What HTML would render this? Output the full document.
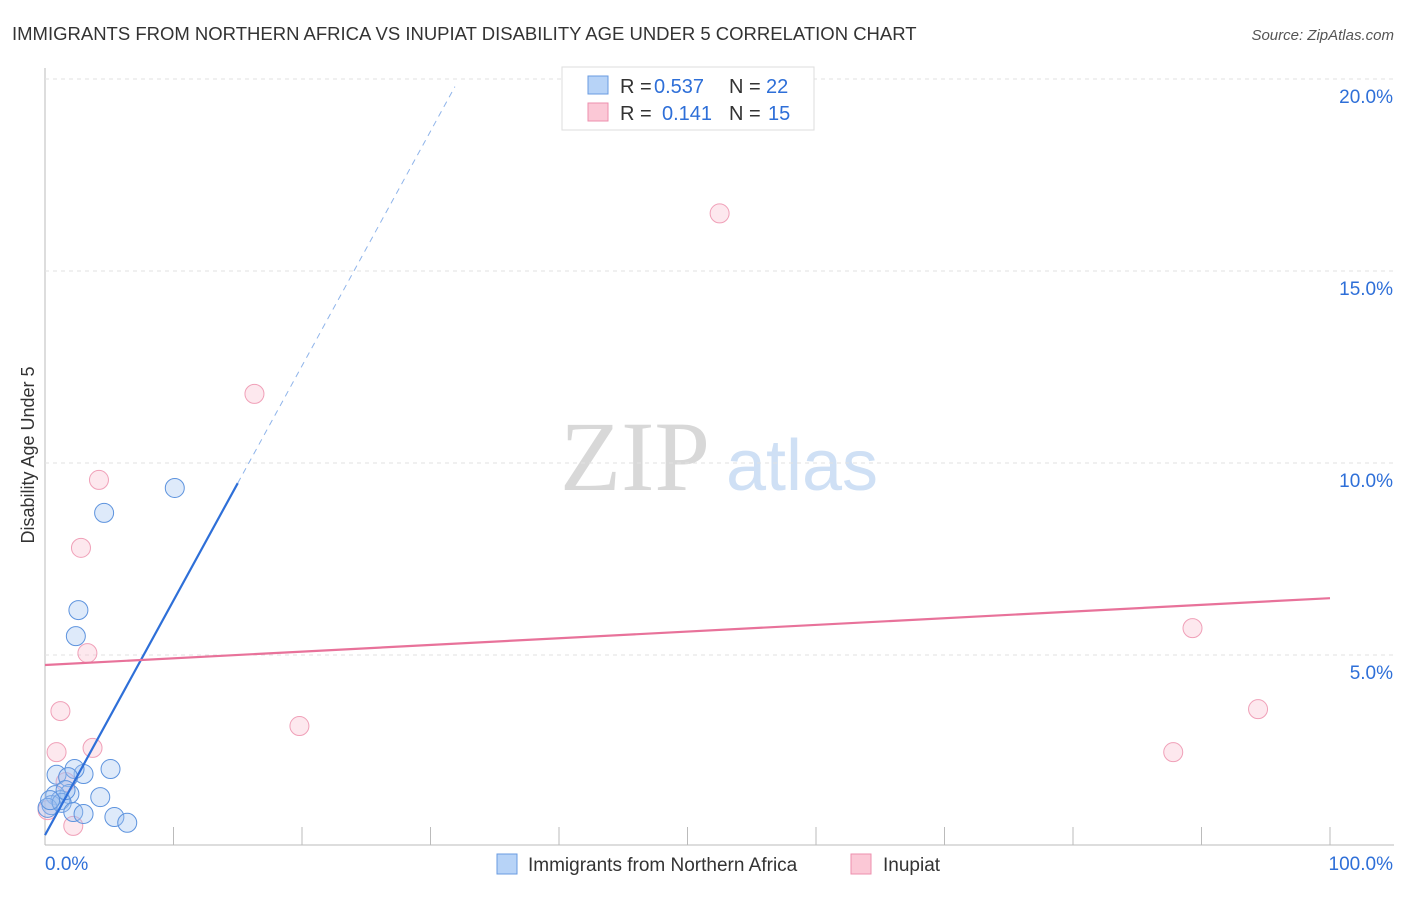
<!DOCTYPE html>
<html><head><meta charset="utf-8"><style>
body{margin:0;background:#fff;font-family:"Liberation Sans",sans-serif}
</style></head><body>
<svg id="c" width="1406" height="892" font-family="Liberation Sans, sans-serif">
<text x="12" y="40" font-size="18.5" fill="#333">IMMIGRANTS FROM NORTHERN AFRICA VS INUPIAT DISABILITY AGE UNDER 5 CORRELATION CHART</text>
<text x="1394" y="40" font-size="15" fill="#555" font-style="italic" text-anchor="end">Source: ZipAtlas.com</text>
<text x="34" y="455" font-size="18" fill="#333" transform="rotate(-90 34 455)" text-anchor="middle">Disability Age Under 5</text>
<text x="635" y="490" font-size="100" fill="#d8d8d8" style="font-family:'Liberation Serif',serif" text-anchor="middle">ZIP</text>
<text x="802" y="490" font-size="72" fill="#cfe0f5" text-anchor="middle">atlas</text>
<g id="grid"></g><g id="pts"></g><g id="lines"></g>
<g>
<rect x="562" y="67" width="252" height="63" fill="#fff" stroke="#ddd"/>
<rect x="588" y="76" width="20" height="18" fill="#b7d3f7" stroke="#6a9be0"/>
<rect x="588" y="103" width="20" height="18" fill="#fbc8d6" stroke="#ee8fae"/>
<text x="620" y="93" font-size="20" fill="#333">R =</text>
<text x="654" y="93" font-size="20" fill="#2e6fd8">0.537</text>
<text x="729" y="93" font-size="20" fill="#333">N =</text>
<text x="766" y="93" font-size="20" fill="#2e6fd8">22</text>
<text x="620" y="120" font-size="20" fill="#333">R =</text>
<text x="662" y="120" font-size="20" fill="#2e6fd8">0.141</text>
<text x="729" y="120" font-size="20" fill="#333">N =</text>
<text x="768" y="120" font-size="20" fill="#2e6fd8">15</text>
</g>
<g>
<rect x="497" y="854" width="20" height="20" fill="#b7d3f7" stroke="#6a9be0"/>
<text x="528" y="871" font-size="19" fill="#333">Immigrants from Northern Africa</text>
<rect x="851" y="854" width="20" height="20" fill="#fbc8d6" stroke="#ee8fae"/>
<text x="883" y="871" font-size="19" fill="#333">Inupiat</text>
</g>
</svg>
<script>
const yTicks=[5,10,15,20];
const xTickLabels=["0.0%","100.0%"];
const blueX=[4.6,10.1,2.6,2.4,5.1,3.0,0.9,2.3,1.8,4.3,1.9,0.8,1.2,0.5,0.2,1.3,2.2,3.0,5.4,6.4,1.6,0.4];
const blueY=[8.7,9.35,6.17,5.49,2.03,1.90,1.88,2.03,1.82,1.30,1.38,1.35,1.22,1.09,1.02,1.15,0.91,0.86,0.78,0.63,1.48,1.22];
const pinkX=[52.5,16.3,4.2,2.8,3.3,1.2,19.8,0.9,3.7,1.6,2.2,89.3,94.4,87.8,0.2];
const pinkY=[16.5,11.8,9.56,7.79,5.05,3.54,3.15,2.47,2.58,1.69,0.55,5.70,3.59,2.47,0.96];
const blueFit=[0.31,0.611]; const pinkFit=[4.74,0.0174];
const blueSolidEnd=15, blueDashEnd=31.9;
const X=v=>45+v*12.85, Y=v=>847-v*38.4;
const NS="http://www.w3.org/2000/svg";
function mk(t,a,p){const e=document.createElementNS(NS,t);for(const k in a)e.setAttribute(k,a[k]);p.appendChild(e);return e;}
const g=document.getElementById('grid');
mk('line',{x1:45,y1:68,x2:45,y2:845,stroke:'#bbb'},g);
mk('line',{x1:45,y1:845,x2:1394,y2:845,stroke:'#bbb'},g);
for(let i=0;i<=10;i++){const l=mk('line',{x1:X(i*10),y1:827,x2:X(i*10),y2:845,stroke:'#bbb'},g);

}
yTicks.forEach(t=>{const l=mk('line',{x1:45,y1:Y(t),x2:1394,y2:Y(t),stroke:'#e2e2e2','stroke-dasharray':'4,4'},g);


const tx=mk('text',{x:1393,y:Y(t)+24,'font-size':19,fill:'#2e6fd8','text-anchor':'end'},g);tx.textContent=t.toFixed(1)+'%';

});
xTickLabels.forEach((s,i)=>{const tx=mk('text',{x:i?1393:45,y:870,'font-size':19,fill:'#2e6fd8','text-anchor':i?'end':'start'},g);tx.textContent=s;

});
const p=document.getElementById('pts');
pinkX.forEach((x,i)=>{const c=mk('circle',{cx:X(x),cy:Y(pinkY[i]),r:9.5,fill:'rgba(248,180,200,0.3)',stroke:'#f0a0b8'},p);

});
blueX.forEach((x,i)=>{const c=mk('circle',{cx:X(x),cy:Y(blueY[i]),r:9.5,fill:'rgba(160,195,240,0.35)',stroke:'#5d93de'},p);

});
const L=document.getElementById('lines');
let a=mk('line',{x1:X(0),y1:Y(blueFit[0]),x2:X(blueSolidEnd),y2:Y(blueFit[0]+blueSolidEnd*blueFit[1]),stroke:'#2e6fd8','stroke-width':2.2},L);


a=mk('line',{x1:X(blueSolidEnd),y1:Y(blueFit[0]+blueSolidEnd*blueFit[1]),x2:X(blueDashEnd),y2:Y(blueFit[0]+blueDashEnd*blueFit[1]),stroke:'#8fb4ea','stroke-width':1,'stroke-dasharray':'6,5'},L);


a=mk('line',{x1:X(0),y1:Y(pinkFit[0]),x2:X(100),y2:Y(pinkFit[0]+100*pinkFit[1]),stroke:'#e8729a','stroke-width':2.2},L);


</script>
</body></html>
